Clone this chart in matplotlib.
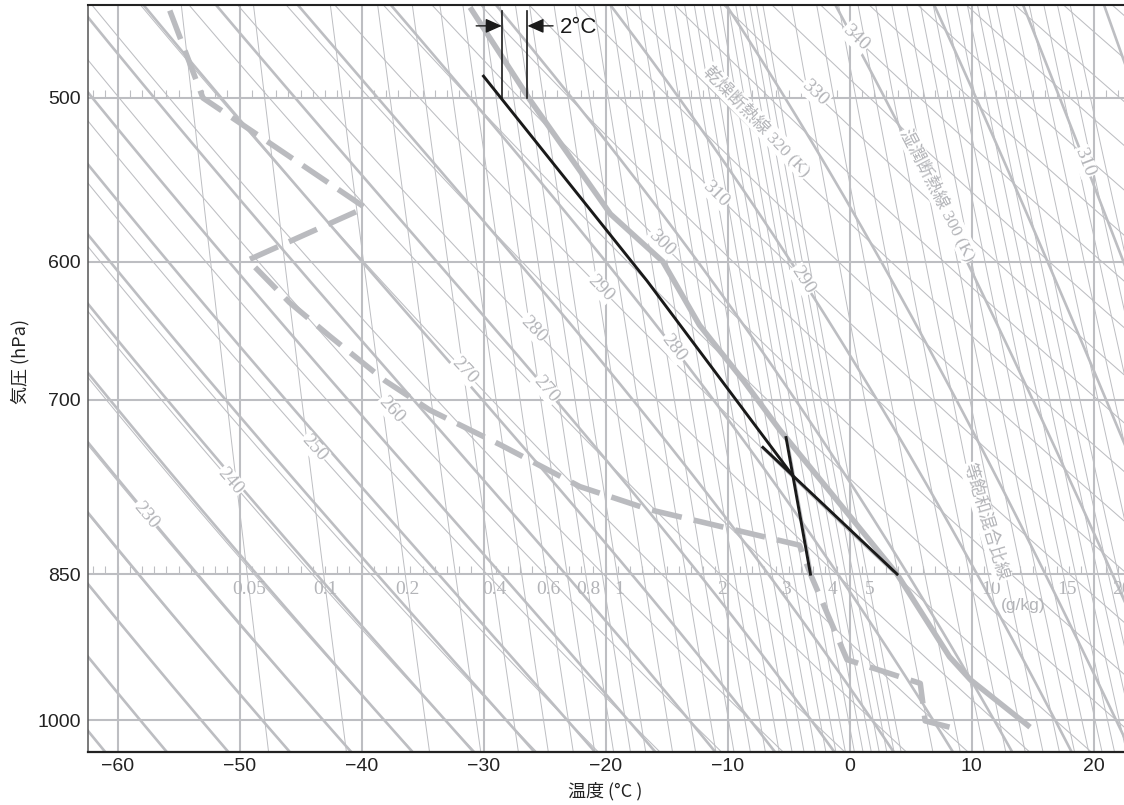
import numpy as np
import matplotlib
matplotlib.use("Agg")
import matplotlib.pyplot as plt
from matplotlib.ticker import FixedLocator, FixedFormatter, NullLocator

# ---------------- data ----------------
temp_p = [1008, 956, 932, 850, 724, 685, 644, 600, 569, 501, 452]
temp_T = [14.8, 9.9, 8.2, 3.9, -5.7, -8.7, -12.3, -15.3, -19.6, -26.2, -31.1]

dew_p = [1008, 1001, 960, 935, 850, 823, 791, 771, 736, 708, 685, 652, 628, 599, 565, 500, 449]
dew_T = [8.2, 6.2, 5.8, -0.2, -3.2, -4.1, -16.4, -22.1, -28.6, -34.4, -38.1, -42.6, -45.9, -49.3, -39.7, -53.0, -56.0]

moist_parcel_p = [488, 613, 761]
moist_parcel_T = [-30.0, -16.6, -4.7]
dry_parcel_p = [850, 738]
dry_parcel_T = [3.9, -7.1]
mixing_parcel_p = [850, 730]
mixing_parcel_T = [-3.2, -5.2]

diff_T = [-28.5, -26.4]          # parcel / environment at 500 hPa ("2°C")
diff_p = [500, 454]

isotherms = list(range(-60, 21, 10))
xtick_labels = ['−60', '−50', '−40', '−30', '−20', '−10', '0', '10', '20']
isobars = [500, 600, 700, 850, 1000]
ytick_labels = ['500', '600', '700', '850', '1000']
tick_isobars = [500, 850]

dry_thetas = list(range(200, 381, 5))
moist_thetaw = list(range(205, 331, 5))
mix_ratios = [0.05, 0.1, 0.2, 0.3, 0.4, 0.5, 0.6, 0.7, 0.8, 0.9, 1.0,
              1.2, 1.4, 1.6, 1.8, 2.0, 2.2, 2.4, 2.6, 2.8, 3.0, 3.2, 3.4, 3.6, 3.8,
              4.0, 4.2, 4.4, 4.6, 4.8, 5, 6, 7, 8, 9, 10, 11, 12, 13, 14, 15,
              16, 17, 18, 19, 20, 22, 24, 26, 28, 30]
mix_label_vals = [0.05, 0.1, 0.2, 0.4, 0.6, 0.8, 1, 2, 3, 4, 5, 10, 15, 20]
mix_label_txt = ['0.05', '0.1', '0.2', '0.4', '0.6', '0.8', '1', '2', '3', '4', '5', '10', '15', '20']
mix_label_p = 865

dry_label_vals = [230, 240, 250, 260, 270, 280, 290, 300, 310, 330, 340]
dry_label_p = [795.8, 766.2, 738.5, 707.9, 677.8, 646.8, 617.9, 587.7, 556.5, 497.3, 467.7]
moist_label_vals = [270, 280, 290, 310]
moist_label_p = [691.5, 660.7, 612.4, 537.0]

# ---------------- style ----------------
LINE = '#BDBEC2'
PROF = '#BABBBF'
TXT = '#B3B4B8'
W, H = 1124, 805
T_LIM = (-62.42, 22.5)
P_LIM = (1036.3, 450.8)

fig = plt.figure(figsize=(W / 100, H / 100), dpi=100)
ax = fig.add_axes([88 / W, (H - 752) / H, (W - 88) / W, (752 - 5) / H])
ax.set_yscale('log')
ax.set_xlim(*T_LIM)
ax.set_ylim(*P_LIM)

# ---------------- physics helpers for background lines ----------------
def es(tc):
    return 6.112 * np.exp(17.67 * tc / (tc + 243.5))

def dry_T(theta, p):
    return theta * (np.asarray(p) / 1000.0) ** 0.2857 - 273.15

def mix_T(w, p):
    p = np.asarray(p)
    e = w * p / (622.0 + w)
    l = np.log(e / 6.112)
    return 243.5 * l / (17.67 - l)

Rd, Cp, Lv, eps = 287.04, 1005.7, 2.501e6, 0.622

def dTdlnp(T, lnp):
    p = np.exp(lnp)
    e = es(T - 273.15)
    rs = eps * e / (p - e)
    return (Rd * T + Lv * rs) / (Cp + Lv * Lv * rs * eps / (Rd * T * T))

def integrate(T0, lnps):
    out = [T0]
    T = T0.copy()
    for i in range(len(lnps) - 1):
        h = lnps[i + 1] - lnps[i]
        k1 = dTdlnp(T, lnps[i])
        k2 = dTdlnp(T + h * k1 / 2, lnps[i] + h / 2)
        k3 = dTdlnp(T + h * k2 / 2, lnps[i] + h / 2)
        k4 = dTdlnp(T + h * k3, lnps[i + 1])
        T = T + h * (k1 + 2 * k2 + 2 * k3 + k4) / 6
        out.append(T)
    return np.array(out)

thw = np.array(moist_thetaw, dtype=float)
lnp_up = np.linspace(np.log(1000), np.log(440), 300)
lnp_dn = np.linspace(np.log(1000), np.log(1045), 15)
T_up = integrate(thw, lnp_up)
T_dn = integrate(thw, lnp_dn)
moist_p = np.concatenate([np.exp(lnp_dn[::-1]), np.exp(lnp_up[1:])])
moist_T = np.concatenate([T_dn[::-1], T_up[1:]]) - 273.15   # shape (np, n)

pp = np.geomspace(1045, 440, 200)

# thin dry adiabats
for th in dry_thetas:
    ax.plot(dry_T(th, pp), pp, color=LINE, lw=0.75, zorder=1)
# thin saturation mixing-ratio lines
for w in mix_ratios:
    ax.plot(mix_T(w, pp), pp, color=LINE, lw=0.7, zorder=1)
# thick moist adiabats
for j in range(len(moist_thetaw)):
    ax.plot(moist_T[:, j], moist_p, color=LINE, lw=1.9, zorder=2)
# isotherms & isobars
for t in isotherms:
    ax.axvline(t, color=LINE, lw=1.5, zorder=2.5)
for p in isobars:
    ax.axhline(p, color=LINE, lw=1.5, zorder=2.5)
# small 1 degC ticks above 500 and 850 hPa
tick_T = np.arange(-62, 23, 1)
for p0 in tick_isobars:
    ax.vlines(tick_T, p0 * np.exp(-8 / 897.4), p0, color=LINE, lw=0.8, zorder=2.5)

# ---------------- labels along lines ----------------
def angle(T1, p1, T2, p2):
    (x1, y1), (x2, y2) = ax.transData.transform([(T1, p1), (T2, p2)])
    return np.degrees(np.arctan2(y2 - y1, x2 - x1))

box = dict(boxstyle='square,pad=0.05', fc='white', ec='none')
serif = ['Liberation Serif', 'DejaVu Serif']

for th, p in zip(dry_label_vals, dry_label_p):
    t = float(dry_T(th, p))
    rot = angle(float(dry_T(th, p * 0.98)), p * 0.98, float(dry_T(th, p * 1.02)), p * 1.02)
    ax.text(t, p, str(th), rotation=rot, rotation_mode='anchor', ha='center', va='center',
            color=TXT, fontsize=14, family=serif, bbox=box, zorder=3)

for th, p in zip(moist_label_vals, moist_label_p):
    j = moist_thetaw.index(th)
    order = np.argsort(moist_p)
    f = lambda q: float(np.interp(q, moist_p[order], moist_T[order, j]))
    rot = angle(f(p * 0.98), p * 0.98, f(p * 1.02), p * 1.02)
    ax.text(f(p), p, str(th), rotation=rot, rotation_mode='anchor', ha='center', va='center',
            color=TXT, fontsize=14, family=serif, bbox=box, zorder=3)

for w, s in zip(mix_label_vals, mix_label_txt):
    ax.text(float(mix_T(w, mix_label_p)), mix_label_p, s, ha='center', va='center',
            color=TXT, fontsize=14, family=serif, zorder=3)

cjk = ['Liberation Serif', 'Noto Sans CJK JP']
ax.text(-7.58, 513.0, '乾燥断熱線 320 (K)', rotation=-45.8, rotation_mode='anchor',
        ha='center', va='center', color=TXT, fontsize=12.5, family=cjk, bbox=box, zorder=3)
ax.text(7.25, 557.1, '湿潤断熱線 300 (K)', rotation=-62.8, rotation_mode='anchor',
        ha='center', va='center', color=TXT, fontsize=12.5, family=cjk, bbox=box, zorder=3)
ax.text(11.19, 802.0, '等飽和混合比線', rotation=-73.3, rotation_mode='anchor',
        ha='center', va='center', color=TXT, fontsize=12.5, family=['Noto Sans CJK JP'],
        bbox=box, zorder=3)
ax.text(14.22, 880.7, '(g/kg)', ha='center', va='center', color=TXT, fontsize=12.5,
        family=['Liberation Sans'], zorder=3)

# ---------------- profiles ----------------
ax.plot(temp_T, temp_p, color=PROF, lw=4.0, solid_capstyle='butt', solid_joinstyle='round', zorder=4)
ax.plot(dew_T, dew_p, color=PROF, lw=4.0, dashes=(5.5, 2.2), dash_capstyle='butt', zorder=4)

K = '#1A1A1A'
ax.plot(moist_parcel_T, moist_parcel_p, color=K, lw=2.1, zorder=5)
ax.plot(dry_parcel_T, dry_parcel_p, color=K, lw=2.1, zorder=5)
ax.plot(mixing_parcel_T, mixing_parcel_p, color=K, lw=2.1, zorder=5)
for t in diff_T:
    ax.plot([t, t], diff_p, color=K, lw=1.2, zorder=5)

arr = dict(arrowstyle='-|>,head_length=0.45,head_width=0.2', color=K, lw=1.0,
           mutation_scale=22, shrinkA=0, shrinkB=0)
ax.annotate('', xy=(diff_T[0], 461.4), xytext=(diff_T[0] - 2.1, 461.4), arrowprops=arr, zorder=6)
ax.annotate('', xy=(diff_T[1], 461.4), xytext=(diff_T[1] + 2.1, 461.4), arrowprops=arr, zorder=6)
ax.text(-23.73, 462.0, '2°C', ha='left', va='center', fontsize=16,
        family=['Liberation Sans'], color=K, zorder=6)

# ---------------- axes ----------------
ax.xaxis.set_major_locator(FixedLocator(isotherms))
ax.xaxis.set_major_formatter(FixedFormatter(xtick_labels))
ax.yaxis.set_major_locator(FixedLocator(isobars))
ax.yaxis.set_major_formatter(FixedFormatter(ytick_labels))
ax.yaxis.set_minor_locator(NullLocator())
ax.xaxis.set_minor_locator(NullLocator())
ax.tick_params(axis='both', length=0, labelsize=14, colors='#222222')
ax.tick_params(axis='x', pad=4)
ax.tick_params(axis='y', pad=5)
for lab in ax.get_xticklabels() + ax.get_yticklabels():
    lab.set_family(['Liberation Sans'])

ax.spines['right'].set_visible(False)
ax.spines['top'].set_color('#222222')
ax.spines['top'].set_linewidth(1.5)
ax.spines['bottom'].set_color('#222222')
ax.spines['bottom'].set_linewidth(1.6)
ax.spines['left'].set_color('#555555')
ax.spines['left'].set_linewidth(1.1)
for s in ax.spines.values():
    s.set_zorder(7)

fig.text(605 / W, 1 - 791 / H, '温度 (°C )', ha='center', va='center', fontsize=13,
         family=['Noto Sans CJK JP'], color='#222222')
fig.text(20 / W, 1 - 361 / H, '気圧 (hPa)', ha='center', va='center', rotation=90,
         fontsize=13, family=['Noto Sans CJK JP'], color='#222222')

fig.savefig('out.png', dpi=100)
